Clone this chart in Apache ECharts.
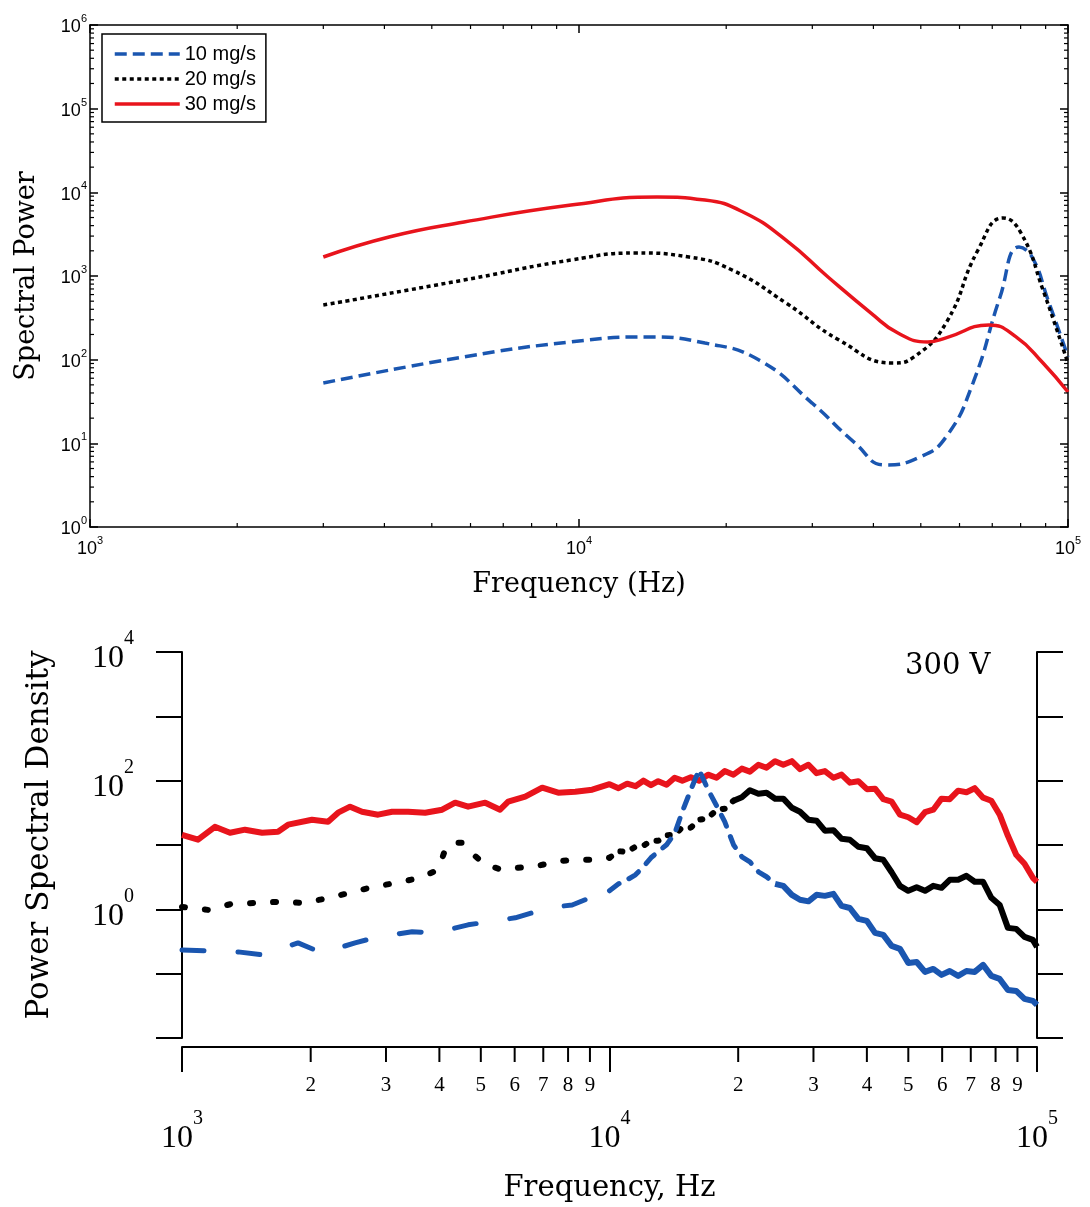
<!DOCTYPE html>
<html><head><meta charset="utf-8">
<script src="https://cdn.jsdelivr.net/npm/echarts@6/dist/echarts.min.js"></script>
<style>html,body{margin:0;padding:0;background:#fff}#c{width:1090px;height:1207px}</style>
</head><body><div id="c"></div>
<script>
// ---------------- TOP PANEL DATA ----------------
const topNames = ['10 mg/s', '20 mg/s', '30 mg/s'];
const topBlueFreq = [3000, 5820, 9630, 13710, 18100, 23340, 29960, 36680, 42250, 49820, 56300, 63920, 72610, 79390, 84420, 91010, 100000];
const topBlueVal  = [52.6, 108, 163, 187, 158, 99, 30.3, 10.1, 5.51, 6.87, 11.9, 52.6, 561, 2220, 1687, 517, 108];
const topBlackFreq = [3000, 5820, 9630, 13080, 16790, 20560, 26500, 34020, 43860, 48430, 56300, 65460, 73640, 80150, 88900, 100000];
const topBlackVal  = [450, 896, 1553, 1883, 1687, 1180, 476, 172, 91.2, 108, 274, 2046, 4932, 3266, 680, 90];
const topRedFreq = [3000, 4108, 5820, 9630, 14440, 18100, 21650, 26500, 32300, 39550, 44900, 51700, 56300, 68900, 78300, 88900, 100000];
const topRedVal  = [1687, 2950, 4419, 7050, 8790, 8090, 5820, 2692, 973, 361, 208, 163, 182, 260, 187, 91.2, 41.1];

// ---------------- BOTTOM PANEL DATA ----------------
const botLabel = '300 V';
const redLowFreq = [1000, 1090, 1194, 1295, 1404, 1539, 1677, 1771, 2014, 2196, 2318, 2473, 2637, 2875, 3101, 3380, 3705, 4060, 4355, 4670, 5120, 5547, 5794, 6350, 6960, 7585, 8315, 9110];
const redLowVal  = [14.4, 12.1, 19.2, 15.5, 17.3, 15.5, 16.1, 20.7, 24.7, 23.0, 31.8, 39.4, 32.9, 29.6, 32.9, 32.9, 31.8, 35.4, 45.5, 39.4, 45.5, 35.4, 47.1, 56.4, 77.8, 65.0, 67.4, 72.4];
const blackLowFreq = [1000, 1150, 1309, 1498, 1678, 1909, 2161, 2473, 2799, 3186, 3606, 3973, 4126, 4284, 4523, 4721, 5119, 5610, 6113, 6810, 7463, 8178, 9110];
const blackLowVal  = [1.09, 0.98, 1.22, 1.26, 1.31, 1.26, 1.46, 1.81, 2.24, 2.59, 3.09, 4.12, 8.44, 10.8, 10.8, 7.85, 4.93, 4.12, 4.43, 4.75, 5.49, 5.89, 5.89];
const blueLowFreq = [1000, 1132, 1352, 1539, 1868, 2126, 2540, 2875, 3453, 3909, 4670, 5202, 6018, 6957, 7463, 8178, 8772, 9772];
const blueLowVal  = [0.234, 0.226, 0.218, 0.196, 0.301, 0.210, 0.301, 0.373, 0.447, 0.431, 0.574, 0.639, 0.738, 0.982, 1.09, 1.17, 1.41, 1.81];
const hiFreq = [10000, 10500, 11000, 11500, 12000, 12500, 13000, 13600, 14200, 14800, 15500, 16200, 17000, 17800, 18600, 19500, 20400, 21300, 22300, 23300, 24400, 25500, 26700, 27900, 29200, 30500, 31900, 33400, 34900, 36500, 38200, 40000, 41800, 43700, 45700, 47800, 50000, 52300, 54700, 57200, 59800, 62500, 65400, 68400, 71500, 74800, 78200, 81800, 85500, 89400, 93500, 97800, 100000];
const redHiVal = [88.2, 76.4, 89.8, 82.1, 100, 85.1, 98.2, 86.6, 111, 100, 113, 100, 124, 111, 141, 124, 154, 138, 177, 159, 201, 177, 201, 151, 177, 131, 141, 111, 124, 93.1, 98.2, 73.8, 75.1, 51.5, 47.1, 29.6, 27.0, 22.6, 32.3, 35.4, 52.5, 51.5, 69.9, 66.2, 76.4, 54.4, 48.8, 29.6, 13.9, 7.05, 5.11, 3.09, 2.68];
const blackHiVal = [6.33, 7.99, 7.85, 9.39, 9.73, 11.6, 11.6, 14.2, 14.4, 18.9, 18.6, 24.7, 26.1, 35.4, 36.7, 48.8, 55.3, 71.1, 62.8, 65.0, 52.5, 52.5, 38.0, 32.9, 24.7, 23.9, 16.7, 17.0, 12.5, 12.1, 9.39, 8.90, 6.22, 5.89, 3.77, 2.32, 1.94, 2.20, 1.94, 2.32, 2.16, 2.88, 2.88, 3.32, 2.68, 2.68, 1.51, 1.17, 0.515, 0.497, 0.373, 0.335, 0.261];
const blueHiVal = [1.94, 2.49, 2.88, 3.44, 4.59, 6.33, 7.85, 10.1, 15.0, 32.9, 72.4, 148, 72.4, 40.8, 23.0, 10.1, 6.56, 5.49, 3.83, 3.21, 2.49, 2.32, 1.68, 1.41, 1.33, 1.68, 1.62, 1.74, 1.13, 1.05, 0.711, 0.662, 0.431, 0.401, 0.270, 0.243, 0.147, 0.152, 0.1065, 0.1185, 0.0957, 0.110, 0.0923, 0.110, 0.1065, 0.137, 0.0923, 0.0828, 0.0558, 0.0539, 0.0405, 0.0377, 0.0326];
const minorDigits = [2, 3, 4, 5, 6, 7, 8, 9];

// ---------------- BUILD ----------------
const pairs = (fs, vs) => fs.map((f, i) => [f, vs[i]]);
const part = (arr, lo, hi) => arr.filter(p => p[0] >= lo && p[0] <= hi);
const redAll = pairs(redLowFreq, redLowVal).concat(pairs(hiFreq, redHiVal));
const blackAll = pairs(blackLowFreq, blackLowVal).concat(pairs(hiFreq, blackHiVal));
const blueAll = pairs(blueLowFreq, blueLowVal).concat(pairs(hiFreq, blueHiVal));

const exp10 = v => Math.round(Math.log10(v));
const SANS = 'Liberation Sans';
const SERIF = 'Liberation Serif';
const WSERIF = 'DejaVu Serif';

const topTicks = [];
[1000, 10000].forEach(d => minorDigits.forEach(m => { topTicks.push([m * d, 1, 0]); topTicks.push([m * d, 1e6, 1]); }));
[1, 10, 100, 1000, 10000, 100000].forEach(d => minorDigits.forEach(m => { topTicks.push([1000, m * d, 2]); topTicks.push([100000, m * d, 3]); }));
const botTicks = [];
[1000, 10000].forEach(d => minorDigits.forEach(m => botTicks.push([m * d, 0.01, m])));

const BLUE = '#1a56b0', RED = '#e8141c', BLACK = '#000';

const topLabel = {
  fontFamily: SANS, color: '#000',
  formatter: v => '{b|10}{s|' + exp10(v) + '}',
  rich: { b: { fontSize: 18, fontFamily: SANS, verticalAlign: 'bottom' },
          s: { fontSize: 11, fontFamily: SANS, verticalAlign: 'top', padding: [0, 0, 12, 0] } }
};
const botRich = { b: { fontSize: 32, fontFamily: SERIF, verticalAlign: 'bottom' },
                  s: { fontSize: 20, fontFamily: SERIF, verticalAlign: 'top', padding: [0, 0, 26, 0] } };
const axLine = { show: true, lineStyle: { color: '#000', width: 1.5 } };

const option = {
  animation: false,
  backgroundColor: '#fff',
  grid: [
    { left: 90, top: 25, width: 978, height: 502 },
    { left: 182, top: 652, width: 855, height: 386 }
  ],
  legend: {
    data: topNames, orient: 'vertical', left: 102, top: 34,
    backgroundColor: '#fff', borderColor: '#000', borderWidth: 1.5, borderRadius: 0,
    padding: [10, 10, 8, 11], itemWidth: 65, itemHeight: 14, itemGap: 5,
    itemStyle: { opacity: 0 },
    lineStyle: { width: 3.5 },
    textStyle: { fontFamily: SANS, fontSize: 20, color: '#000', width: 80 }
  },
  xAxis: [
    { type: 'log', logBase: 10, min: 1000, max: 100000, gridIndex: 0, splitNumber: 2,
      axisLine: axLine, axisTick: { inside: true, length: 8, lineStyle: { color: '#000', width: 1.5 } },
      axisLabel: Object.assign({ margin: 8 }, topLabel), splitLine: { show: false },
      name: 'Frequency (Hz)', nameLocation: 'middle', nameGap: 44,
      nameTextStyle: { fontFamily: WSERIF, fontSize: 27, color: '#000' } },
    { type: 'log', logBase: 10, min: 1000, max: 100000, gridIndex: 0, position: 'top', splitNumber: 2,
      axisLine: axLine, axisTick: { inside: true, length: 8, lineStyle: { color: '#000', width: 1.5 } },
      axisLabel: { show: false }, splitLine: { show: false } },
    { type: 'log', logBase: 10, min: 1000, max: 100000, gridIndex: 1, splitNumber: 2, offset: 9,
      axisLine: { show: true, lineStyle: { color: '#000', width: 2 } },
      axisTick: { inside: false, length: 25, lineStyle: { color: '#000', width: 2 } },
      axisLabel: { margin: 62, color: '#000', formatter: v => '{b|10}{s|' + exp10(v) + '}', rich: botRich },
      splitLine: { show: false },
      name: 'Frequency, Hz', nameLocation: 'middle', nameGap: 127,
      nameTextStyle: { fontFamily: WSERIF, fontSize: 29, color: '#000' } }
  ],
  yAxis: [
    { type: 'log', logBase: 10, min: 1, max: 1e6, gridIndex: 0, splitNumber: 6,
      axisLine: axLine, axisTick: { inside: true, length: 8, lineStyle: { color: '#000', width: 1.5 } },
      axisLabel: Object.assign({ margin: 3 }, topLabel), splitLine: { show: false },
      name: 'Spectral Power', nameLocation: 'middle', nameGap: 50,
      nameTextStyle: { fontFamily: WSERIF, fontSize: 27, color: '#000' } },
    { type: 'log', logBase: 10, min: 1, max: 1e6, gridIndex: 0, position: 'right', splitNumber: 6,
      axisLine: axLine, axisTick: { inside: true, length: 8, lineStyle: { color: '#000', width: 1.5 } },
      axisLabel: { show: false }, splitLine: { show: false } },
    { type: 'log', logBase: 10, min: 0.01, max: 10000, gridIndex: 1, splitNumber: 6,
      axisLine: { show: true, lineStyle: { color: '#000', width: 2 } },
      axisTick: { inside: false, length: 26, lineStyle: { color: '#000', width: 2 } },
      axisLabel: { margin: 48, color: '#000', rich: botRich,
        formatter: v => { const e = exp10(v); return (e >= 0 && e % 2 === 0) ? '{b|10}{s|' + e + '}' : ''; } },
      splitLine: { show: false },
      name: 'Power Spectral Density', nameLocation: 'middle', nameGap: 127,
      nameTextStyle: { fontFamily: WSERIF, fontSize: 31, color: '#000', padding: [0, 0, 0, 20] } },
    { type: 'log', logBase: 10, min: 0.01, max: 10000, gridIndex: 1, position: 'right', splitNumber: 6,
      axisLine: { show: true, lineStyle: { color: '#000', width: 2 } },
      axisTick: { inside: false, length: 26, lineStyle: { color: '#000', width: 2 } },
      axisLabel: { show: false }, splitLine: { show: false } }
  ],
  graphic: [
    { type: 'text', left: 905, top: 652, style: { text: botLabel, font: '29px "DejaVu Serif"', fill: '#000' } }
  ],
  series: [
    { name: topNames[0], type: 'line', xAxisIndex: 0, yAxisIndex: 0, data: pairs(topBlueFreq, topBlueVal),
      smooth: 0.5, symbol: 'none', color: BLUE,
      lineStyle: { color: BLUE, width: 3.5, type: [12, 6] } },
    { name: topNames[1], type: 'line', xAxisIndex: 0, yAxisIndex: 0, data: pairs(topBlackFreq, topBlackVal),
      smooth: 0.5, symbol: 'none', color: BLACK,
      lineStyle: { color: BLACK, width: 3.5, type: [4, 3.5] } },
    { name: topNames[2], type: 'line', xAxisIndex: 0, yAxisIndex: 0, data: pairs(topRedFreq, topRedVal),
      smooth: 0.5, symbol: 'none', color: RED,
      lineStyle: { color: RED, width: 3.5 } },
    { type: 'custom', xAxisIndex: 0, yAxisIndex: 0, data: topTicks, clip: false, silent: true, z: 5,
      dimensions: ['x', 'y', 'side'], encode: { x: 0, y: 1 },
      renderItem: (params, api) => {
        const side = api.value(2);
        const p = api.coord([api.value(0), api.value(1)]);
        const L = 4;
        const d = [[0, -L], [0, L], [L, 0], [-L, 0]][side];
        return { type: 'line', shape: { x1: p[0], y1: p[1], x2: p[0] + d[0], y2: p[1] + d[1] },
                 style: { stroke: '#000', lineWidth: 1.2 } };
      } },
    { type: 'line', xAxisIndex: 2, yAxisIndex: 2, data: redAll, symbol: 'none',
      lineStyle: { color: RED, width: 6, join: 'round' } },
    { type: 'line', xAxisIndex: 2, yAxisIndex: 2, data: part(blackAll, 0, 10000), symbol: 'none',
      lineStyle: { color: BLACK, width: 6, type: [3, 20], cap: 'round' } },
    { type: 'line', xAxisIndex: 2, yAxisIndex: 2, data: part(blackAll, 10000, 19500), symbol: 'none',
      lineStyle: { color: BLACK, width: 6, type: [2, 11], cap: 'round' } },
    { type: 'line', xAxisIndex: 2, yAxisIndex: 2, data: part(blackAll, 19500, 1e6), symbol: 'none',
      lineStyle: { color: BLACK, width: 6, join: 'round' } },
    { type: 'line', xAxisIndex: 2, yAxisIndex: 2, data: part(blueAll, 0, 10000), symbol: 'none',
      lineStyle: { color: BLUE, width: 5, type: [22, 34], cap: 'round' } },
    { type: 'line', xAxisIndex: 2, yAxisIndex: 2, data: part(blueAll, 10000, 24400), symbol: 'none',
      lineStyle: { color: BLUE, width: 5, type: [12, 11], cap: 'round' } },
    { type: 'line', xAxisIndex: 2, yAxisIndex: 2, data: part(blueAll, 24400, 1e6), symbol: 'none',
      lineStyle: { color: BLUE, width: 6, join: 'round' } },
    { type: 'custom', xAxisIndex: 2, yAxisIndex: 2, data: botTicks, clip: false, silent: true, z: 5,
      dimensions: ['x', 'y', 'digit'], encode: { x: 0, y: 1 },
      renderItem: (params, api) => {
        const p = api.coord([api.value(0), api.value(1)]);
        const y0 = p[1] + 9;
        return { type: 'group', children: [
          { type: 'line', shape: { x1: p[0], y1: y0, x2: p[0], y2: y0 + 15 }, style: { stroke: '#000', lineWidth: 2 } },
          { type: 'text', x: p[0], y: y0 + 38, style: { text: String(api.value(2)), font: '21px "Liberation Serif"',
            fill: '#000', align: 'center', verticalAlign: 'middle' } }
        ] };
      } }
  ]
};
const chart = echarts.init(document.getElementById('c'));
chart.setOption(option);
</script>
</body></html>
